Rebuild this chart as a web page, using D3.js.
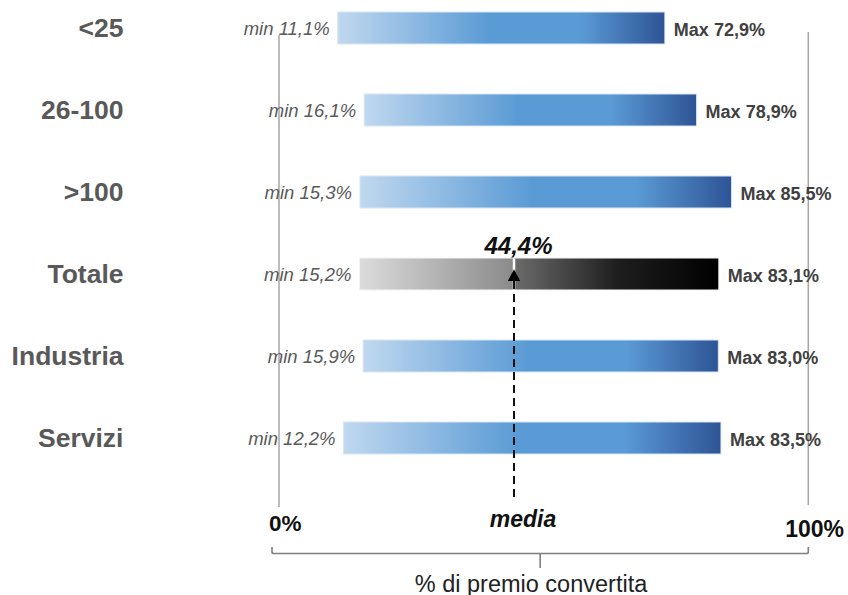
<!DOCTYPE html>
<html>
<head>
<meta charset="utf-8">
<script src="https://cdn.jsdelivr.net/npm/d3@7"></script>
<style>
  html, body { margin: 0; padding: 0; background: #fff; }
  svg { display: block; font-family: "Liberation Sans", Arial, sans-serif; }
</style>
</head>
<body>
<svg id="chart" width="848" height="595"></svg>
<script>
// ---- data ----
const categories = ["<25", "26-100", ">100", "Totale", "Industria", "Servizi"];
const minValues  = [11.1, 16.1, 15.3, 15.2, 15.9, 12.2];
const maxValues  = [72.9, 78.9, 85.5, 83.1, 83.0, 83.5];
const totalCategory = "Totale";
const meanValue = 44.4;
const axisDomain = [0, 100];
const axisTickLabels = ["0%", "100%"];
const meanText = "media";
const axisTitle = "% di premio convertita";

// ---- setup ----
const svg = d3.select("#chart");
const loc = d3.formatLocale({ decimal: ",", thousands: ".", grouping: [3], currency: ["", "€"] });
const fmt = v => loc.format(".1f")(v) + "%";

const x = d3.scaleLinear().domain(axisDomain).range([279, 808.3]);
const y = d3.scalePoint().domain(categories).range([28, 438]);
const barH = 32;

const rows = categories.map((c, i) => ({ cat: c, min: minValues[i], max: maxValues[i], i }));

// ---- gradients ----
const defs = svg.append("defs");
const blue = defs.append("linearGradient").attr("id", "gBlue");
[[0, "#c0d8ef"], [0.46, "#5b9bd5"], [0.74, "#5b9bd5"], [1, "#2e5496"]]
  .forEach(([o, c]) => blue.append("stop").attr("offset", o).attr("stop-color", c));

const tot = rows.find(r => r.cat === totalCategory);
const mOff = (meanValue - tot.min) / (tot.max - tot.min);
const grey = defs.append("linearGradient").attr("id", "gGrey");
[[0, "#dcdcdc"], [mOff, "#8a8a8a"], [mOff + 0.005, "#6a6a6a"], [0.72, "#1e1e1e"], [1, "#000000"]]
  .forEach(([o, c]) => grey.append("stop").attr("offset", o).attr("stop-color", c));

// ---- reference vertical lines ----
svg.append("line").attr("x1", x(axisDomain[0])).attr("x2", x(axisDomain[0]))
  .attr("y1", 35).attr("y2", 507).attr("stroke", "#a6a6a6").attr("stroke-width", 1.5);
svg.append("line").attr("x1", x(axisDomain[1])).attr("x2", x(axisDomain[1]))
  .attr("y1", 32).attr("y2", 505).attr("stroke", "#a6a6a6").attr("stroke-width", 1.5);

// ---- category labels ----
svg.append("g").selectAll("text").data(rows).join("text")
  .attr("x", 123.5).attr("y", d => y(d.cat) + 9)
  .attr("text-anchor", "end")
  .attr("font-size", 26.5).attr("font-weight", "bold").attr("fill", "#595959")
  .text(d => d.cat);

// ---- bars ----
svg.append("g").selectAll("rect").data(rows).join("rect")
  .attr("x", d => x(d.min)).attr("width", d => x(d.max) - x(d.min))
  .attr("y", d => y(d.cat) - barH / 2).attr("height", barH)
  .attr("fill", d => d.cat === totalCategory ? "url(#gGrey)" : "url(#gBlue)")
  .attr("stroke", d => d.cat === totalCategory ? "#f4f4f4" : "#d6e6f6").attr("stroke-width", 1);

// ---- min labels ----
svg.append("g").selectAll("text").data(rows).join("text")
  .attr("x", d => x(d.min) - 8).attr("y", d => y(d.cat) + 7)
  .attr("text-anchor", "end")
  .attr("font-size", 18.5).attr("font-style", "italic").attr("fill", "#595959")
  .text(d => "min " + fmt(d.min));

// ---- max labels ----
svg.append("g").selectAll("text").data(rows).join("text")
  .attr("x", d => x(d.max) + 9).attr("y", d => y(d.cat) + 7.5)
  .attr("font-size", 18).attr("font-weight", "bold").attr("fill", "#404040")
  .text(d => "Max " + fmt(d.max));

// ---- mean marker ----
const mx = x(meanValue);
const ty = y(totalCategory);
svg.append("line").attr("x1", mx).attr("x2", mx)
  .attr("y1", ty - barH / 2 + 0.5).attr("y2", ty + barH / 2 - 0.5)
  .attr("stroke", "#ffffff").attr("stroke-width", 2.5);
svg.append("line").attr("x1", mx).attr("x2", mx)
  .attr("y1", ty + 7).attr("y2", 498)
  .attr("stroke", "#111").attr("stroke-width", 2).attr("stroke-dasharray", "8,5");
svg.append("path")
  .attr("d", `M${mx},${ty - 4.8}L${mx + 6.2},${ty + 7}L${mx - 6.2},${ty + 7}Z`)
  .attr("fill", "#000");
svg.append("text").attr("x", mx + 4.5).attr("y", ty - 20)
  .attr("text-anchor", "middle")
  .attr("font-size", 24).attr("font-weight", "bold").attr("font-style", "italic").attr("fill", "#111")
  .text(fmt(meanValue));

// ---- bottom axis labels ----
svg.append("text").attr("x", x(axisDomain[0]) - 10).attr("y", 531)
  .attr("font-size", 22.5).attr("font-weight", "bold").attr("fill", "#111")
  .text(axisTickLabels[0]);
svg.append("text").attr("x", 844).attr("y", 537)
  .attr("text-anchor", "end")
  .attr("font-size", 23).attr("font-weight", "bold").attr("fill", "#111")
  .text(axisTickLabels[1]);
svg.append("text").attr("x", mx + 9).attr("y", 527)
  .attr("text-anchor", "middle")
  .attr("font-size", 23).attr("font-weight", "bold").attr("font-style", "italic").attr("fill", "#111")
  .text(meanText);

// ---- brace ----
const bx0 = x(axisDomain[0]) - 7, bx1 = x(axisDomain[1]);
const bcx = (bx0 + bx1) / 2;
svg.append("path")
  .attr("d", `M${bx0},547 L${bx0},552 Q${bx0},553.5 ${bx0 + 2},553.5 L${bx1 - 2},553.5 Q${bx1},553.5 ${bx1},552 L${bx1},547 M${bcx},553.5 L${bcx},568`)
  .attr("fill", "none").attr("stroke", "#7f7f7f").attr("stroke-width", 1.6);
svg.append("text").attr("x", 531).attr("y", 591.5)
  .attr("text-anchor", "middle")
  .attr("font-size", 23.5).attr("fill", "#222")
  .text(axisTitle);
</script>
</body>
</html>
